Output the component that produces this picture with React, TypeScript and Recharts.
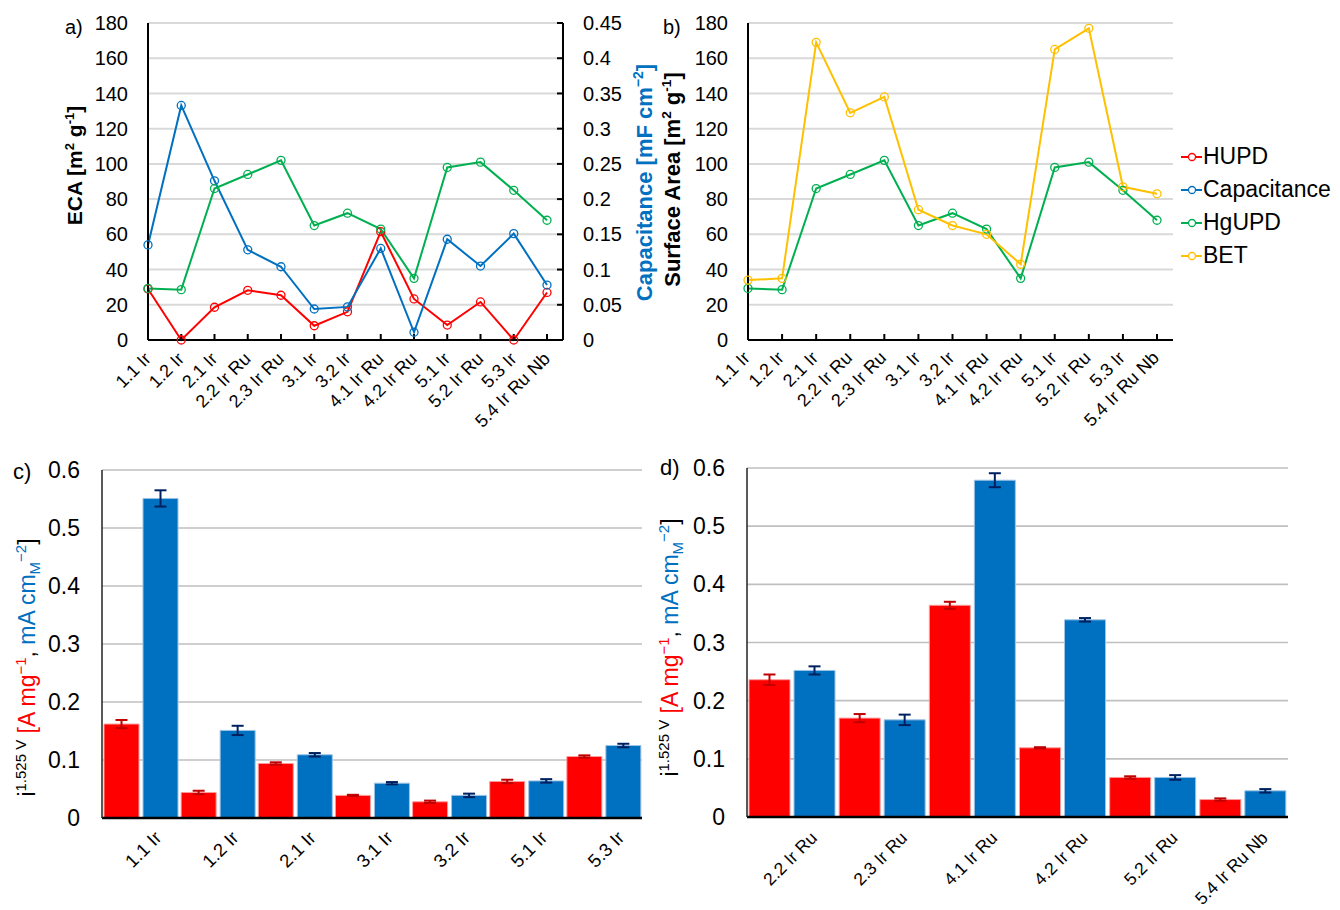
import {
  Bar,
  BarChart,
  CartesianGrid,
  ErrorBar,
  Line,
  LineChart,
  XAxis,
  YAxis,
} from "recharts";

const FONT = "'Liberation Sans', Arial, sans-serif";

// a) and b): electrochemical / BET surface areas
const samples = [
  "1.1 Ir", "1.2 Ir", "2.1 Ir", "2.2 Ir Ru", "2.3 Ir Ru", "3.1 Ir", "3.2 Ir",
  "4.1 Ir Ru", "4.2 Ir Ru", "5.1 Ir", "5.2 Ir Ru", "5.3 Ir", "5.4 Ir Ru Nb",
];
const hupd = [29, 0, 18.6, 28.2, 25.4, 8.1, 16, 61.5, 23.3, 8.5, 21.6, 0, 27];
const capacitance = [0.135, 0.333, 0.226, 0.128, 0.104, 0.044, 0.047, 0.13, 0.011, 0.143, 0.105, 0.151, 0.078];
const hgupd = [29.3, 28.6, 86, 94, 102, 65, 72, 63, 35, 98, 101, 85, 68];
const bet = [34, 35, 169, 129, 138, 74, 65, 60, 43, 165, 177, 87, 83];

const areaTicks = [0, 20, 40, 60, 80, 100, 120, 140, 160, 180];
const capTicks = [0, 0.05, 0.1, 0.15, 0.2, 0.25, 0.3, 0.35, 0.4, 0.45];

// c) Ir-only catalysts
const irSamples = ["1.1 Ir", "1.2 Ir", "2.1 Ir", "3.1 Ir", "3.2 Ir", "5.1 Ir", "5.3 Ir"];
const irMass = [0.162, 0.044, 0.094, 0.039, 0.028, 0.063, 0.106];
const irMassErr = [0.007, 0.003, 0.002, 0.001, 0.002, 0.003, 0.002];
const irSpec = [0.551, 0.151, 0.109, 0.06, 0.039, 0.064, 0.125];
const irSpecErr = [0.014, 0.008, 0.003, 0.002, 0.003, 0.003, 0.003];

// d) mixed-oxide catalysts
const ruSamples = ["2.2 Ir Ru", "2.3 Ir Ru", "4.1 Ir Ru", "4.2 Ir Ru", "5.2 Ir Ru", "5.4 Ir Ru Nb"];
const ruMass = [0.236, 0.17, 0.364, 0.119, 0.068, 0.03];
const ruMassErr = [0.009, 0.007, 0.006, 0.001, 0.002, 0.002];
const ruSpec = [0.252, 0.167, 0.579, 0.339, 0.068, 0.045];
const ruSpecErr = [0.007, 0.009, 0.012, 0.003, 0.004, 0.003];

const activityTicks = [0, 0.1, 0.2, 0.3, 0.4, 0.5, 0.6];

const RED = "#FF0000";
const BLUE = "#0070C0";
const GREEN = "#00B050";
const YELLOW = "#FFC000";

const legendItems = [
  { name: "HUPD", color: RED },
  { name: "Capacitance", color: BLUE },
  { name: "HgUPD", color: GREEN },
  { name: "BET", color: YELLOW },
];

const lineData = samples.map((s, i) => ({
  sample: s,
  hupd: hupd[i],
  capacitance: capacitance[i],
  hgupd: hgupd[i],
  bet: bet[i],
}));

const irData = irSamples.map((s, i) => ({
  sample: s,
  mass: irMass[i],
  massErr: irMassErr[i],
  spec: irSpec[i],
  specErr: irSpecErr[i],
}));

const ruData = ruSamples.map((s, i) => ({
  sample: s,
  mass: ruMass[i],
  massErr: ruMassErr[i],
  spec: ruSpec[i],
  specErr: ruSpecErr[i],
}));

const SlantTick = (props: any) => {
  const { x, y, payload, offX, offY, size } = props;
  const tx = x + offX;
  const ty = y + offY;
  return (
    <text
      x={tx}
      y={ty}
      transform={`rotate(-45, ${tx}, ${ty})`}
      textAnchor="end"
      fontSize={size}
      fill="#000"
    >
      {payload.value}
    </text>
  );
};

// rotated axis title with superscripts, baseline at bx, centred on cy
const areaTitle = (text: string, bx: number, cy: number, size: number, color: string) => (
  <text
    x={bx}
    y={cy}
    transform={`rotate(-90, ${bx}, ${cy})`}
    textAnchor="middle"
    fontSize={size}
    fontWeight="bold"
    fill={color}
    style={{ whiteSpace: "pre" }}
  >
    <tspan>{text} [m</tspan>
    <tspan fontSize={size * 0.62} dy={-size * 0.4}>2</tspan>
    <tspan dy={size * 0.4}> g</tspan>
    <tspan fontSize={size * 0.62} dy={-size * 0.4}>-1</tspan>
    <tspan dy={size * 0.4}>]</tspan>
  </text>
);

const EcaLabel = (props: any) => {
  const { viewBox } = props;
  return areaTitle("ECA", viewBox.x + 82, viewBox.y + viewBox.height / 2 - 16, 21, "#000");
};

const SurfaceLabel = (props: any) => {
  const { viewBox } = props;
  return areaTitle("Surface Area", viewBox.x + 30, viewBox.y + viewBox.height / 2 - 2, 22, "#000");
};

const CapLabel = (props: any) => {
  const { viewBox } = props;
  const bx = viewBox.x + 89;
  const cy = viewBox.y + viewBox.height / 2 + 1;
  return (
    <text
      x={bx}
      y={cy}
      transform={`rotate(-90, ${bx}, ${cy})`}
      textAnchor="middle"
      fontSize={22}
      fontWeight="bold"
      fill={BLUE}
      style={{ whiteSpace: "pre" }}
    >
      <tspan>Capacitance [mF cm</tspan>
      <tspan fontSize={14} dy={-9}>−2</tspan>
      <tspan dy={9}>]</tspan>
    </text>
  );
};

const activityLabel = (dxBase: number, dyCenter: number) => (props: any) => {
  const { viewBox } = props;
  const bx = viewBox.x + dxBase;
  const cy = viewBox.y + viewBox.height / 2 + dyCenter;
  return (
    <text
      x={bx}
      y={cy}
      transform={`rotate(-90, ${bx}, ${cy})`}
      textAnchor="middle"
      fontSize={23}
      fill="#000"
      style={{ whiteSpace: "pre" }}
    >
      <tspan>i</tspan>
      <tspan fontSize={15} dy={-9}>1.525 V</tspan>
      <tspan dy={9} fill={RED}> [A mg</tspan>
      <tspan fontSize={15} dy={-9} fill={RED}>−1</tspan>
      <tspan dy={9}>, </tspan>
      <tspan fill={BLUE}>mA cm</tspan>
      <tspan fontSize={15} dy={5} fill={BLUE}>M</tspan>
      <tspan fontSize={15} dy={-14} fill={BLUE}>−2</tspan>
      <tspan dy={9}>]</tspan>
    </text>
  );
};

const dot = (color: string) => ({ r: 4, fill: "none", stroke: color, strokeWidth: 1.3 });

const panelLabel = (text: string, left: number, top: number, size: number) => (
  <div style={{ position: "absolute", left, top, fontSize: size, lineHeight: 1 }}>{text}</div>
);

function ActivityBars({
  data,
  width,
  yWidth,
  marginTop,
  marginRight,
  xHeight,
  tickOffX,
  tickOffY,
  tickSize,
  label,
}: any) {
  return (
    <BarChart
      width={width}
      height={470}
      data={data}
      margin={{ top: marginTop, right: marginRight, bottom: 0, left: 0 }}
      barCategoryGap={2}
      barGap={4}
    >
      <CartesianGrid vertical={false} stroke="#bfbfbf" strokeWidth={1.6} />
      <XAxis
        dataKey="sample"
        interval={0}
        height={xHeight}
        tickLine={false}
        tickSize={0}
        tickMargin={0}
        axisLine={{ stroke: "#000", strokeWidth: 2.5 }}
        tick={(p: any) => <SlantTick {...p} offX={tickOffX} offY={tickOffY} size={tickSize} />}
      />
      <XAxis xAxisId="top" dataKey="sample" orientation="top" height={0} tick={false} tickLine={false} axisLine={{ stroke: "#222", strokeWidth: 1.5 }} />
      <YAxis
        width={yWidth}
        domain={[0, 0.6]}
        ticks={activityTicks}
        tickLine={false}
        tickMargin={16}
        tick={{ fontSize: 23, fill: "#000" }}
        axisLine={{ stroke: "#222", strokeWidth: 1.5 }}
        label={{ content: label }}
      />
      <YAxis yAxisId="r" orientation="right" width={0} tick={false} tickLine={false} axisLine={{ stroke: "#222", strokeWidth: 1.5 }} />
      <Bar dataKey="mass" fill={RED} stroke="#ff9c9c" strokeWidth={1} isAnimationActive={false}>
        <ErrorBar dataKey="massErr" width={6} strokeWidth={2} stroke="#C00000" />
      </Bar>
      <Bar dataKey="spec" fill={BLUE} stroke="#9dc3e6" strokeWidth={1} isAnimationActive={false}>
        <ErrorBar dataKey="specErr" width={6} strokeWidth={2} stroke="#002060" />
      </Bar>
    </BarChart>
  );
}

export default function App() {
  return (
    <div
      style={{
        position: "absolute",
        left: 0,
        top: 0,
        width: 1340,
        height: 910,
        background: "#fff",
        fontFamily: FONT,
        color: "#000",
      }}
    >
      {/* a) */}
      <div style={{ position: "absolute", left: 0, top: 0 }}>
        <LineChart width={660} height={440} data={lineData} margin={{ top: 23, right: 7, bottom: 0, left: 0 }}>
          <CartesianGrid yAxisId="left" vertical={false} stroke="#d9d9d9" strokeWidth={2} />
          <XAxis
            dataKey="sample"
            interval={0}
            height={100}
            padding={{ left: 0, right: 16 }}
            tickSize={-6}
            tickMargin={6}
            tickLine={{ stroke: "#000", strokeWidth: 2 }}
            axisLine={{ stroke: "#000", strokeWidth: 2 }}
            tick={(p: any) => <SlantTick {...p} offX={4} offY={20} size={18} />}
          />
          <XAxis xAxisId="top" dataKey="sample" orientation="top" height={0} tick={false} tickLine={false} axisLine={{ stroke: "#000", strokeWidth: 2 }} />
          <YAxis
            yAxisId="left"
            width={148}
            domain={[0, 180]}
            ticks={areaTicks}
            tickLine={false}
            tickMargin={14}
            tick={{ fontSize: 20, fill: "#000" }}
            axisLine={{ stroke: "#000", strokeWidth: 2 }}
            label={{ content: EcaLabel }}
          />
          <YAxis
            yAxisId="right"
            orientation="right"
            width={90}
            domain={[0, 0.45]}
            ticks={capTicks}
            tickSize={-6}
            tickMargin={26}
            tickLine={{ stroke: "#000", strokeWidth: 2 }}
            tick={{ fontSize: 20, fill: "#000" }}
            axisLine={{ stroke: "#000", strokeWidth: 2 }}
            label={{ content: CapLabel }}
          />
          <Line yAxisId="left" dataKey="hupd" stroke={RED} strokeWidth={2} dot={dot(RED)} isAnimationActive={false} />
          <Line yAxisId="right" dataKey="capacitance" stroke={BLUE} strokeWidth={2} dot={dot(BLUE)} isAnimationActive={false} />
          <Line yAxisId="left" dataKey="hgupd" stroke={GREEN} strokeWidth={2} dot={dot(GREEN)} isAnimationActive={false} />
        </LineChart>
      </div>

      {/* b) */}
      <div style={{ position: "absolute", left: 650, top: 0 }}>
        <LineChart width={690} height={440} data={lineData} margin={{ top: 23, right: 167, bottom: 0, left: 0 }}>
          <CartesianGrid vertical={false} stroke="#d9d9d9" strokeWidth={2} />
          <XAxis
            dataKey="sample"
            interval={0}
            height={100}
            padding={{ left: 0, right: 16 }}
            tickSize={-6}
            tickMargin={6}
            tickLine={{ stroke: "#000", strokeWidth: 2 }}
            axisLine={{ stroke: "#000", strokeWidth: 2 }}
            tick={(p: any) => <SlantTick {...p} offX={3} offY={19} size={18} />}
          />
          <XAxis xAxisId="top" dataKey="sample" orientation="top" height={0} tick={false} tickLine={false} axisLine={{ stroke: "#000", strokeWidth: 2 }} />
          <YAxis
            width={98}
            domain={[0, 180]}
            ticks={areaTicks}
            tickLine={false}
            tickMargin={14}
            tick={{ fontSize: 20, fill: "#000" }}
            axisLine={{ stroke: "#000", strokeWidth: 2 }}
            label={{ content: SurfaceLabel }}
          />
          <YAxis yAxisId="r" orientation="right" width={0} tick={false} tickLine={false} axisLine={{ stroke: "#000", strokeWidth: 2 }} />
          <Line dataKey="hgupd" stroke={GREEN} strokeWidth={2} dot={dot(GREEN)} isAnimationActive={false} />
          <Line dataKey="bet" stroke={YELLOW} strokeWidth={2} dot={dot(YELLOW)} isAnimationActive={false} />
        </LineChart>
      </div>

      {/* legend */}
      <div style={{ position: "absolute", left: 1180, top: 140 }}>
        {legendItems.map((item) => (
          <div key={item.name} style={{ display: "flex", alignItems: "center", height: 33, fontSize: 23 }}>
            <svg width={23} height={12}>
              <line x1={1} y1={6} x2={22} y2={6} stroke={item.color} strokeWidth={2} />
              <circle cx={12} cy={6} r={3.5} fill="#fff" stroke={item.color} strokeWidth={1.3} />
            </svg>
            <span>{item.name}</span>
          </div>
        ))}
      </div>

      {/* c) */}
      <div style={{ position: "absolute", left: 0, top: 440 }}>
        <ActivityBars
          data={irData}
          width={660}
          yWidth={102}
          marginTop={30}
          marginRight={18}
          xHeight={92}
          tickOffX={22}
          tickOffY={21}
          tickSize={18.5}
          label={activityLabel(35, 23.5)}
        />
      </div>

      {/* d) */}
      <div style={{ position: "absolute", left: 650, top: 440 }}>
        <ActivityBars
          data={ruData}
          width={690}
          yWidth={97}
          marginTop={28}
          marginRight={52}
          xHeight={93}
          tickOffX={26}
          tickOffY={22}
          tickSize={17.5}
          label={activityLabel(28, 5)}
        />
      </div>

      {panelLabel("a)", 65, 17, 20)}
      {panelLabel("b)", 663, 17, 20)}
      {panelLabel("c)", 13, 461, 22)}
      {panelLabel("d)", 660, 457, 22)}
    </div>
  );
}
